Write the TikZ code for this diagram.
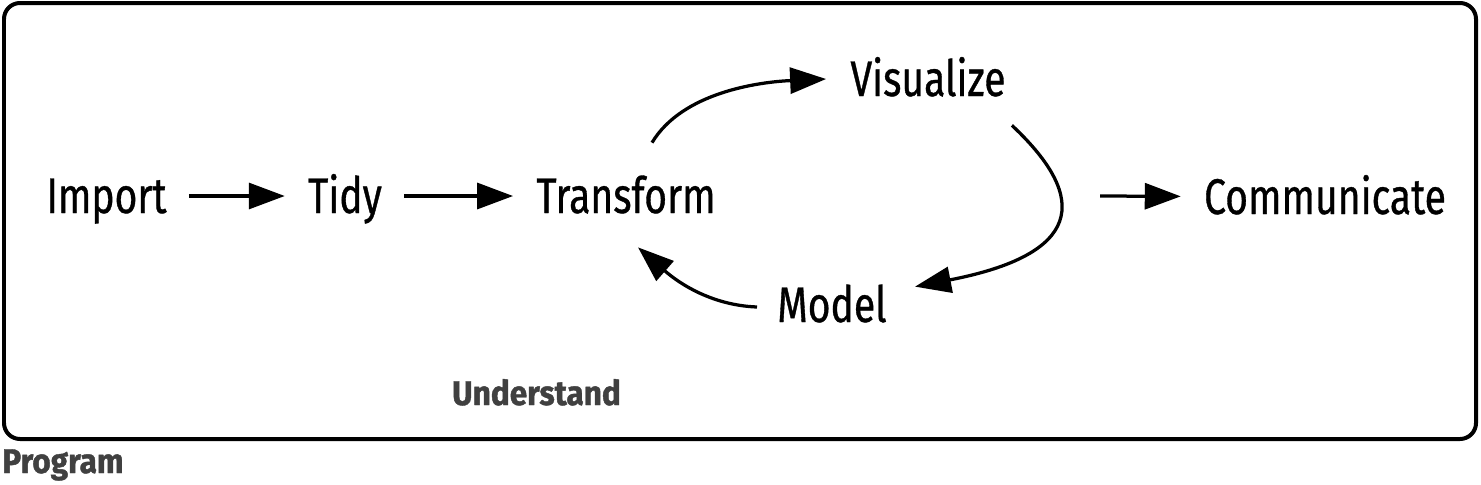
\documentclass[tikz,border=0pt]{standalone}
\usepackage{fontspec}
\setmainfont{Fira Sans}[FakeStretch=0.78,FakeBold=0.7]
\newfontfamily\tagfont{Fira Sans}[FakeStretch=0.92,FakeBold=1.2]
\usepackage{tikz}
\usetikzlibrary{arrows.meta,positioning}
\definecolor{tagcol}{RGB}{64,64,64}

\begin{document}
\begin{tikzpicture}[x=0.02cm,y=-0.02cm,
		stage/.style={inner sep=0pt,anchor=base,text height=0.68cm,text depth=0pt,font=\fontsize{28.5}{32}\selectfont},
		tag/.style={inner sep=0pt,text=tagcol,font=\tagfont\bfseries\fontsize{19.5}{22}\selectfont},
		flow/.style={line width=0.065cm,-{Triangle[length=0.72cm,width=0.52cm]}},
		straight/.style={flow,shorten <=0.44cm,shorten >=0.46cm}]
			\useasboundingbox (0,0) rectangle (1481,484);
			\draw[line width=0.08cm,rounded corners=0.32cm] (4,3) rectangle (1476,439);
			% stages
			\node[stage] (import) at (106.5,213) {Import};
			\node[stage] (tidy) at (345,213) {Tidy};
			\node[stage] (transform) at (626,213) {Transform};
			\node[stage] (visualize) at (928,96) {Visualize};
			\node[stage] (model) at (832,322) {Model};
			\node[stage] (communicate) at (1325,214) {Communicate};
			\coordinate (loopout) at (1100,196);
			% labels
			\node[tag,anchor=base] (understand) at (536.5,405) {Understand};
			\node[tag,anchor=base west] (program) at (2,473) {Program};
			% arrows
			\draw[straight] (import) -- (tidy);
			\draw[straight] (tidy) -- (transform);
			\draw[straight,shorten <=0pt] (loopout) -- (communicate);
			\draw[flow] ([shift={(26,-36)}]transform.north) .. controls +(30,-50) and +(-68,3) .. ([shift={(-24,0)}]visualize.west);
			\draw[flow] ([shift={(6,29)}]visualize.south east) .. controls +(80,75) and +(165,-32) .. ([shift={(28,-1)}]model.north east);
			\draw[flow] ([shift={(-20,2)}]model.west) .. controls +(-53,-2) and +(32,28) .. ([shift={(12,34)}]transform.south);
		\end{tikzpicture}
\end{document}
